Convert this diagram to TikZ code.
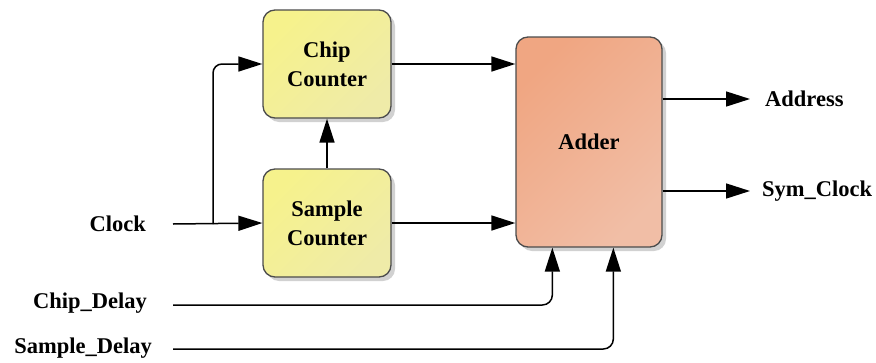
\documentclass[tikz,border=0pt]{standalone}
\usepackage{fontspec}
\setmainfont{Liberation Serif}
\usetikzlibrary{arrows.meta,shadows,calc}
\begin{document}
\begin{tikzpicture}[x=1pt,y=-1pt,
  lbl/.style={font=\fontsize{22.5}{29}\selectfont\bfseries, inner sep=0pt},
  blk/.style={draw=black!70, line width=1.3pt, rounded corners=12pt, align=center,
    font=\fontsize{22.5}{29}\selectfont\bfseries,
    drop shadow={shadow xshift=4pt, shadow yshift=-4pt, fill=black, opacity=0.18}},
  ylw/.style={blk, left color={rgb,255:red,246;green,242;blue,140}, right color={rgb,255:red,239;green,235;blue,168}, shading angle=45},
  org/.style={blk, left color={rgb,255:red,240;green,166;blue,130}, right color={rgb,255:red,241;green,190;blue,166}, shading angle=45},
  arr/.style={line width=1.5pt, -{Triangle[length=24pt,width=15pt]}}]
\useasboundingbox (0,0) rectangle (876,362);
\node[ylw, minimum width=128pt, minimum height=108pt] (cc) at (327,64) {Chip\\Counter};
\node[ylw, minimum width=128pt, minimum height=108pt] (sc) at (327,223) {Sample\\Counter};
\node[org, minimum width=146pt, minimum height=210pt] (ad) at (589,142) {Adder};

\node[lbl, anchor=east] (clk) at (146,224) {Clock};
\node[lbl, anchor=east] (cd) at (147,303) {Chip\_Delay};
\node[lbl, anchor=east] (sd) at (152,348) {Sample\_Delay};
\node[lbl, anchor=west] (addr) at (765,99) {Address};
\node[lbl, anchor=west] (sym) at (762,191) {Sym\_Clock};

\coordinate (br) at (213,224);
\draw[arr] ([xshift=27pt]clk.east) -- (sc.west);
\draw[arr, rounded corners=9pt] (br) |- (cc.west);
\draw[arr] (sc.north) -- (cc.south);
\draw[arr] (cc.east) -- (ad.west |- cc.east);
\draw[arr] (sc.east) -- (ad.west |- sc.east);
\draw[arr] (ad.east |- addr.west) -- ([xshift=-15pt]addr.west);
\draw[arr] (ad.east |- sym.west) -- ([xshift=-12pt]sym.west);
\coordinate (cdin) at ($(ad.south west)+(37,0)$);
\coordinate (sdin) at ($(ad.south west)+(98,0)$);
\draw[arr, rounded corners=10pt] ([xshift=26pt]cd.east |- 0,305) -| (cdin);
\draw[arr, rounded corners=10pt] ([xshift=21pt]sd.east |- 0,349) -| (sdin);
\end{tikzpicture}
\end{document}
